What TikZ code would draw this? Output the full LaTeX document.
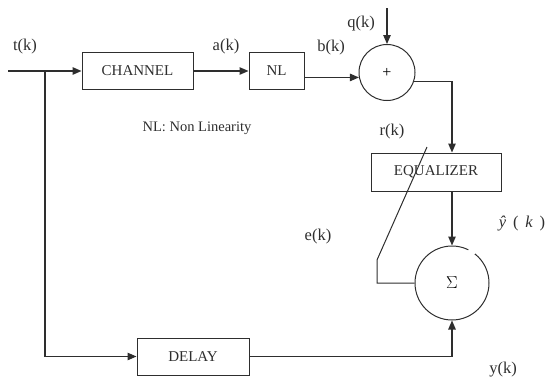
\documentclass[tikz,border=0pt]{standalone}
\usepackage{fontspec}
\setmainfont{Liberation Serif}
\usetikzlibrary{arrows.meta,calc}
\definecolor{ink}{HTML}{2E2E2E}
\tikzset{
  blk/.style={draw=ink, line width=1pt, rectangle, minimum height=37pt, inner sep=0pt, font=\fontsize{15}{17}\selectfont, text=ink},
  sumnode/.style={draw=ink, line width=1pt, circle, inner sep=0pt},
  lbl/.style={text=ink, font=\fontsize{16.5}{18}\selectfont, inner sep=0pt},
  wire/.style={draw=ink, line width=1.1pt},
  arr/.style={wire, -{Triangle[length=9pt,width=7.5pt]}},
}
\begin{document}
\begin{tikzpicture}[x=1pt,y=-1pt]
\useasboundingbox (0,0) rectangle (554,383);
% blocks
\node[blk, minimum width=111pt] (channel) at (137.5,71) {CHANNEL};
\node[blk, minimum width=55pt] (nl) at (276.5,71) {NL};
\node[sumnode, minimum size=56pt] (plus) at (387,72.5) {\fontsize{16}{18}\selectfont +};
\node[blk, minimum width=130pt, minimum height=38pt] (eq) at (436,172) {EQUALIZER};
\node[sumnode, minimum size=74pt] (sum) at (452,283) {\fontsize{19}{21}\selectfont $\Sigma$};
\node[blk, minimum width=112pt] (delay) at (193,356.5) {DELAY};
% gap in the summing circle
\fill[white] (sum.58) circle (4pt);
% coordinates
\coordinate (in) at (8,71);
\coordinate (br) at (45,71);
\coordinate (q) at (387,8);
\coordinate (c1) at (452,0);
\coordinate (s1) at (427,147);
\coordinate (s2) at (377,260);
% connectors
\draw[arr, line width=1.4pt] (in) -- (channel.west);
\draw[arr] (br) |- (delay.west);
\draw[arr] (channel.east) -- (nl.west);
\draw[arr] (nl.east |- plus.190) -- (plus.190);
\draw[arr] (q) -- (plus.north);
\draw[arr] (plus.-18) -| (eq.north -| c1);
\draw[arr] (eq.south -| c1) -- (sum.north);
\draw[arr] (delay.east) -| (sum.south);
\draw[wire, line width=1pt] (s1) -- (s2) -- (s2 |- sum.west) -- (sum.west);
% labels
\node[lbl] (tk) at (25,47) {t(k)};
\node[lbl] (ak) at (226,47) {a(k)};
\node[lbl] (bk) at (331,48) {b(k)};
\node[lbl] (qk) at (361,24) {q(k)};
\node[lbl] (rk) at (392,132) {r(k)};
\node[lbl] (ek) at (318,237) {e(k)};
\node[lbl] (yhat) at (522,224) {{\itshape ŷ} \,( \,{\itshape k} \,)};
\node[lbl] (yk) at (503,370) {y(k)};
\node[lbl, font=\fontsize{14.5}{16}\selectfont] (note) at (197,128) {NL: Non Linearity};
\end{tikzpicture}
\end{document}
